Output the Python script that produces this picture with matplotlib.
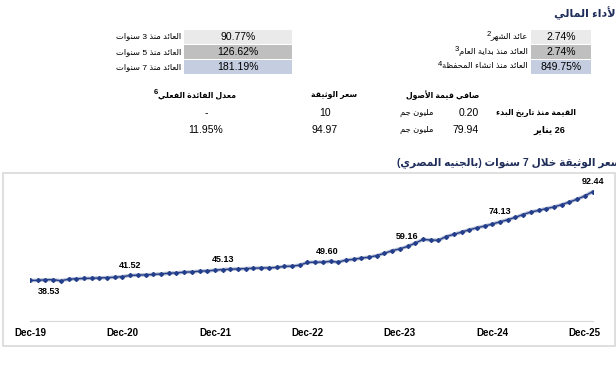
import re
import matplotlib
matplotlib.use("Agg")
import matplotlib.pyplot as plt
from matplotlib.patches import Rectangle

plt.rcParams['font.family'] = ['Liberation Sans', 'DejaVu Sans']

# ---- data ----
nav_price = [
    38.45, 38.53, 38.90, 38.95, 38.30, 39.20, 39.50, 39.70, 39.80, 40.00,
    40.20, 40.40, 40.80, 41.52, 41.70, 41.90, 42.10, 42.45, 42.85, 43.10,
    43.50, 43.70, 44.10, 44.30, 44.70, 45.13, 45.30, 45.50, 45.70, 45.90,
    46.10, 46.15, 46.40, 47.00, 47.20, 47.80, 49.40, 49.60, 49.60, 50.10,
    49.60, 50.90, 51.30, 52.10, 52.60, 53.60, 55.00, 56.60, 57.70, 59.16,
    61.20, 63.40, 63.10, 62.90, 65.20, 66.50, 67.90, 69.30, 70.50, 71.60,
    72.80, 74.13, 75.40, 76.90, 78.60, 80.10, 81.10, 82.20, 83.20, 84.60,
    86.20, 87.90, 89.90, 92.44,
]
labelled_idx = [1, 13, 25, 37, 49, 61, 73]
tick_labels = ['Dec-19', 'Dec-20', 'Dec-21', 'Dec-22', 'Dec-23', 'Dec-24', 'Dec-25']

left_names = ['العائد منذ 3 سنوات', 'العائد منذ 5 سنوات', 'العائد منذ 7 سنوات']
left_values = ['90.77%', '126.62%', '181.19%']
right_names = ['عائد الشهر', 'العائد منذ بداية العام', 'العائد منذ انشاء المحفظة']
right_notes = ['2', '3', '4']
right_values = ['2.74%', '2.74%', '849.75%']

mid_headers = ['صافي قيمة الأصول', 'سعر الوثيقة', 'معدل الفائدة الفعلي']
mid_notes = ['', '', '6']
mid_rows = ['القيمة منذ تاريخ البدء', '26 يناير']
mid_nav = ['0.20', '79.94']
mid_price = ['10', '94.97']
mid_rate = ['-', '11.95%']
unit = 'مليون جم'

title_top = 'الأداء المالي'
chart_title = 'سعر الوثيقة خلال 7 سنوات (بالجنيه المصري)'

# ---- tiny arabic shaper (matplotlib has no bidi / joining) ----
_counts = [1, 2, 2, 2, 2, 4, 2, 4, 2, 4, 4, 4, 4, 4, 2, 2, 2, 2, 4, 4, 4, 4, 4, 4, 4, 4,
           4, 4, 4, 4, 4, 4, 4, 2, 2, 4]
_codes = list(range(0x0621, 0x063B)) + list(range(0x0641, 0x064B))
FORMS = {}
_b = 0xFE80
for cp, k in zip(_codes, _counts):
    FORMS[chr(cp)] = (_b, k)
    _b += k
LAM_ALEF = {'\u0622': 0xFEF5, '\u0623': 0xFEF7, '\u0625': 0xFEF9, '\u0627': 0xFEFB}


def ar(text):
    res = []
    i, n = 0, len(text)
    while i < n:
        c = text[i]
        if c not in FORMS:
            res.append(c)
            i += 1
            continue
        prev = text[i - 1] if i > 0 else ''
        base, k = FORMS[c]
        link_prev = k > 1 and prev in FORMS and FORMS[prev][1] == 4
        if c == '\u0644' and i + 1 < n and text[i + 1] in LAM_ALEF:
            res.append(chr(LAM_ALEF[text[i + 1]] + (1 if link_prev else 0)))
            i += 2
            continue
        nxt = text[i + 1] if i + 1 < n else ''
        link_next = k == 4 and nxt in FORMS and FORMS[nxt][1] > 1
        if link_prev and link_next:
            f = 3
        elif link_prev:
            f = 1
        elif link_next:
            f = 2
        else:
            f = 0
        res.append(chr(base + f))
        i += 1
    s = ''.join(res)[::-1]
    s = re.sub(r'[0-9.%]+', lambda m: m.group(0)[::-1], s)
    return s.translate(str.maketrans('()', ')('))


W, H = 616, 365
fig = plt.figure(figsize=(W / 100, H / 100), dpi=100)
renderer = fig.canvas.get_renderer()


def fx(x):
    return x / W


def fy(y):
    return 1 - y / H


def txt(x, y, s, **kw):
    kw.setdefault('ha', 'center')
    kw.setdefault('va', 'center')
    kw.setdefault('fontsize', 7)
    return fig.text(fx(x), fy(y), s, transform=fig.transFigure, **kw)


def note(t, y, s):
    # small superscript number just left of an arabic label
    if not s:
        return
    left = t.get_window_extent(renderer).x0
    txt(left, y - 2.5, s, ha='right', fontsize=5.5, fontweight=t.get_fontweight())


navy = '#1F2D5A'
row_colors = ['#EAEAEA', '#BFBFBF', '#C5CEE1']
row_y = [36.5, 52, 67]

# header
txt(619, 13, ar(title_top), ha='right', fontsize=8, fontweight='bold', color=navy)

# return tables
for r in range(3):
    for x0, x1 in [(184, 291.5), (531, 591)]:
        fig.patches.append(Rectangle((fx(x0), fy(row_y[r] + 7)), fx(x1 - x0), (14 / H),
                                     transform=fig.transFigure, facecolor=row_colors[r],
                                     edgecolor='none'))
    txt(238, row_y[r], left_values[r], fontsize=7.5)
    txt(561, row_y[r], right_values[r], fontsize=7.5)
    txt(181, row_y[r], ar(left_names[r]), ha='right', fontsize=6)
    t = txt(528, row_y[r], ar(right_names[r]), ha='right', fontsize=6)
    note(t, row_y[r], right_notes[r])

# NAV table
for x, h, n in zip([443, 334, 197], mid_headers, mid_notes):
    t = txt(x, 95, ar(h), fontsize=5.6, fontweight='bold')
    note(t, 95, n)
for r, y in enumerate([113, 130]):
    txt(536 if r == 0 else 549, y, ar(mid_rows[r]), fontsize=5.6 if r == 0 else 6.5,
        fontweight='bold')
    txt(479, y, mid_nav[r], ha='right', fontsize=7.5)
    txt(417, y, ar(unit), fontsize=6)
    txt(325, y, mid_price[r], fontsize=7.5)
    txt(206, y, mid_rate[r], fontsize=7.5)

# chart frame + title
fig.patches.append(Rectangle((fx(2.7), fy(345.7)), fx(615 - 2.7), (345.7 - 173.3) / H,
                             transform=fig.transFigure, facecolor='none',
                             edgecolor='#D9D9D9', lw=1.2))
txt(621, 163, ar(chart_title), ha='right', fontsize=7.6, fontweight='bold', color=navy)

ax = fig.add_axes([fx(30), fy(321), fx(592.5 - 30), (321 - 180) / H])
x = list(range(len(nav_price)))
ax.plot(x, nav_price, color='#B9C0D3', lw=2.6, solid_capstyle='round', zorder=1)
ax.plot(x, nav_price, color='#233E8B', lw=1.0, marker='D', markersize=2.0, zorder=2)
ax.set_xlim(0, len(nav_price) - 1)
ax.set_ylim(13.8, 99.6)
ax.set_xticks(range(0, 73, 12))
ax.set_xticklabels(tick_labels, fontsize=7, fontweight='bold')
ax.tick_params(axis='x', length=0, pad=5)
ax.set_yticks([])
for s in ['top', 'left', 'right']:
    ax.spines[s].set_visible(False)
ax.spines['bottom'].set_color('#D9D9D9')
ax.patch.set_alpha(0)

offsets = {1: (11, -11), 37: (12, 11)}
for i in labelled_idx:
    ax.annotate(f'{nav_price[i]:.2f}', (i, nav_price[i]), xytext=offsets.get(i, (0, 10)),
                textcoords='offset pixels', ha='center', va='center',
                fontsize=6.5, fontweight='bold')

fig.savefig('out.png', dpi=100)
